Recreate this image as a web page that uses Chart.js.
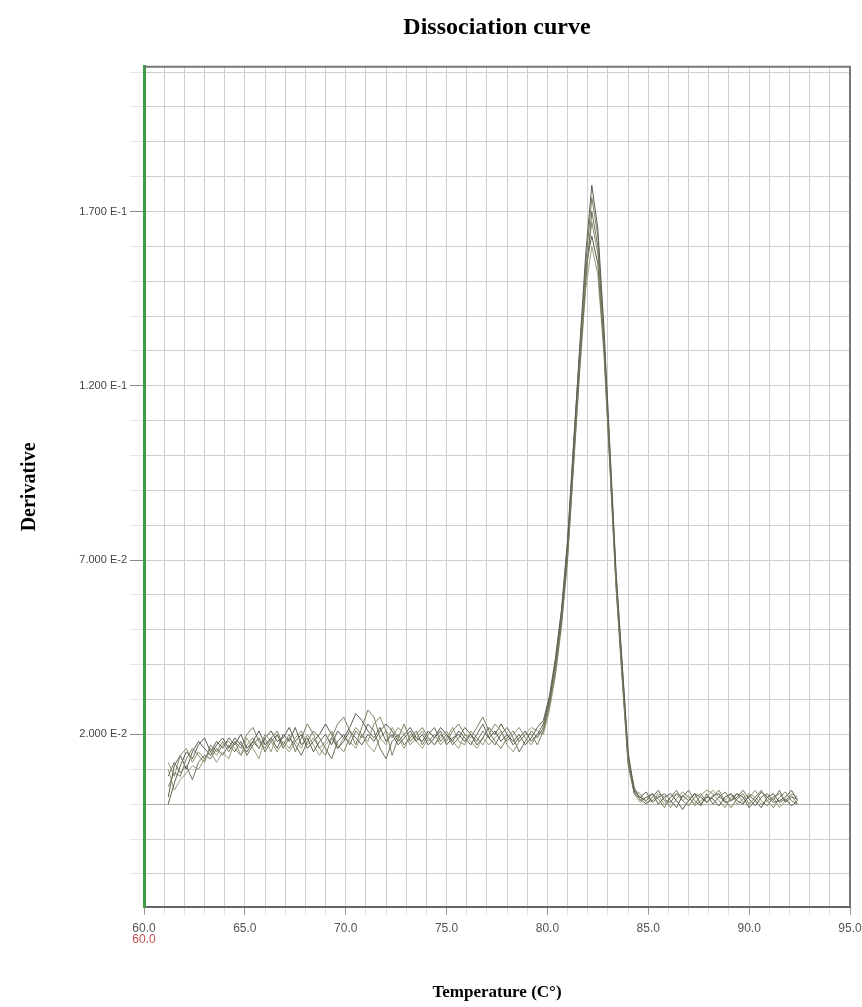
<!DOCTYPE html>
<html>
<head>
<meta charset="utf-8">
<script src="https://cdn.jsdelivr.net/npm/chart.js@4/dist/chart.umd.min.js"></script>
<style>
  body { margin: 0; background: #fff; }
  #wrap { width: 862px; height: 1007px; }
</style>
</head>
<body>
<div id="wrap"><canvas id="meltChart"></canvas></div>
<script>
// temperature steps (°C)
const temps = [
  61.2, 61.5, 61.8, 62.1, 62.4, 62.7, 63.0, 63.3, 63.6, 63.9,
  64.2, 64.5, 64.8, 65.1, 65.4, 65.7, 66.0, 66.3, 66.6, 66.9,
  67.2, 67.5, 67.8, 68.1, 68.4, 68.7, 69.0, 69.3, 69.6, 69.9,
  70.2, 70.5, 70.8, 71.1, 71.4, 71.7, 72.0, 72.3, 72.6, 72.9,
  73.2, 73.5, 73.8, 74.1, 74.4, 74.7, 75.0, 75.3, 75.6, 75.9,
  76.2, 76.5, 76.8, 77.1, 77.4, 77.7, 78.0, 78.3, 78.6, 78.9,
  79.2, 79.5, 79.8, 80.1, 80.4, 80.7, 81.0, 81.3, 81.6, 81.9,
  82.2, 82.5, 82.8, 83.1, 83.4, 83.7, 84.0, 84.3, 84.6, 84.9,
  85.2, 85.5, 85.8, 86.1, 86.4, 86.7, 87.0, 87.3, 87.6, 87.9,
  88.2, 88.5, 88.8, 89.1, 89.4, 89.7, 90.0, 90.3, 90.6, 90.9,
  91.2, 91.5, 91.8, 92.1, 92.4
];

// derivative values per well, in units of 1e-3
const well1 = [
  0, 6, 11, 15, 13, 17, 19, 15, 18, 16,
  19, 17, 20, 16, 18, 21, 17, 19, 16, 20,
  18, 22, 17, 19, 15, 18, 20, 17, 21, 19,
  22, 26, 24, 21, 19, 22, 18, 20, 17, 19,
  21, 18, 20, 17, 19, 22, 20, 18, 21, 19,
  17, 20, 23, 19, 21, 18, 20, 17, 19, 21,
  18, 20, 23, 30, 41, 55, 75, 103, 131, 158,
  177.5, 165, 137, 102, 67, 41, 15, 4, 2, 3.5,
  0.5, 2, 3, 1, -1, 2.5, 1, 3, 0, 2,
  1.5, -0.5, 2, 3, 1, 0, 2.5, 1, -1, 2,
  3, 0.5, 1.5, -0.5, 1
];
const well2 = [
  5, 9, 8, 13, 16, 14, 12, 17, 15, 18,
  15, 18, 16, 20, 22, 18, 16, 19, 21, 17,
  20, 15, 19, 23, 20, 16, 14, 19, 23, 25,
  21, 17, 22, 27, 25, 19, 21, 14, 19, 23,
  18, 20, 22, 19, 17, 20, 18, 21, 23, 20,
  19, 22, 25, 21, 18, 16, 19, 21, 18, 20,
  20, 17, 21, 28, 39, 54, 73, 101, 129, 155,
  174, 163, 135, 101, 65, 39, 13, 5, 1, 2,
  3, 1.5, -1, 2, 4, 1, -0.5, 2, 3, 0.5,
  2, 4, 1, -1, 1.5, 3, 0, 2, 4, 1,
  -1, 2, 3.5, 1, 0
];
const well3 = [
  8, 12, 9, 11, 7, 12, 14, 13, 16, 14,
  17, 15, 18, 14, 17, 19, 15, 18, 20, 16,
  19, 17, 14, 18, 21, 19, 16, 13, 18, 20,
  17, 21, 19, 23, 21, 16, 13, 18, 20, 17,
  19, 21, 17, 20, 22, 18, 20, 17, 19, 22,
  20, 18, 21, 19, 17, 20, 22, 19, 15, 18,
  21, 19, 22, 29, 38, 52, 71, 98, 125, 150,
  170, 160, 133, 99, 66, 40, 14, 3, 1.5, 0,
  2, 4, 1, 0.5, 3, 2, 4, 1, -0.5, 3,
  0, 2, 3.5, 1, 2, 4, 1.5, -0.5, 2, 3,
  1, 4, 0.5, 2, 1.5
];
const well4 = [
  12, 8, 14, 16, 12, 15, 13, 16, 14, 17,
  18, 16, 14, 17, 19, 16, 20, 18, 15, 18,
  16, 19, 21, 17, 19, 16, 18, 21, 17, 15,
  19, 22, 20, 18, 23, 25, 21, 19, 22, 20,
  17, 19, 21, 18, 20, 17, 19, 22, 18, 17,
  21, 19, 17, 20, 23, 21, 18, 20, 22, 19,
  17, 20, 21, 30, 40, 53, 72, 99, 127, 152,
  167, 158, 132, 98, 64, 38, 13, 4, 3, 0.5,
  1, 3, 2, -1, 1.5, 3.5, 2, 0, 2.5, 4,
  3, 1, -1, 2, 3, 0.5, 2, 4, 1, -0.5,
  2, 3, 1, 2.5, 0
];
const well5 = [
  2, 11, 14, 10, 15, 18, 16, 14, 17, 19,
  16, 19, 17, 15, 18, 16, 19, 21, 18, 19,
  22, 18, 20, 16, 18, 20, 23, 20, 16, 18,
  21, 19, 17, 20, 18, 21, 23, 21, 18, 20,
  22, 19, 18, 21, 19, 21, 17, 19, 20, 18,
  20, 17, 19, 22, 20, 23, 20, 18, 20, 17,
  19, 22, 24, 31, 42, 56, 76, 104, 130, 154,
  163, 155, 131, 97, 63, 37, 12, 3.5, 2, 1,
  3, 0, 2, 3, 1, -1.5, 1, 3, 2, 0.5,
  2.5, 3, 0.5, 1, 3, 2, -1, 1, 3.5, 2,
  0.5, 1, 2, 4, 1
];
const well6 = [
  10, 4, 7, 9, 11, 10, 13, 15, 12, 15,
  13, 18, 14, 19, 16, 13, 19, 15, 20, 17,
  15, 18, 16, 20, 17, 14, 17, 19, 16, 19,
  18, 16, 20, 17, 15, 19, 17, 22, 19, 16,
  20, 18, 16, 19, 17, 19, 21, 18, 16, 20,
  18, 16, 19, 17, 19, 21, 17, 15, 18, 20,
  22, 21, 20, 27, 37, 51, 70, 97, 124, 148,
  160, 152, 129, 96, 62, 36, 11, 3, 0.5, 2,
  1, 2.5, 0, 2, 3, 1, 2.5, -0.5, 1, 2,
  4, 2, 1, 3, 0, 1.5, 3, 2, 0, 1,
  2, -1, 1, 3, 2
];

const wells = [well1, well2, well3, well4, well5, well6];
const wellColors = ['#5e5e52', '#7b7f62', '#6a705a', '#8c9070', '#585c4c', '#9a9c7c'];

// tick labels
const xTickValues = [60, 65, 70, 75, 80, 85, 90, 95];
const xTickLabels = ['60.0', '65.0', '70.0', '75.0', '80.0', '85.0', '90.0', '95.0'];
const yTickValues = [20, 70, 120, 170];
const yTickLabels = ['2.000 E-2', '7.000 E-2', '1.200 E-1', '1.700 E-1'];
const startTempLabel = '60.0';

const frame = {
  id: 'frame',
  afterDraw(chart) {
    const { ctx, chartArea: a, scales } = chart;
    ctx.save();
    ctx.strokeStyle = '#777';
    ctx.lineWidth = 2;
    ctx.beginPath();
    ctx.moveTo(a.left, a.top);
    ctx.lineTo(a.right, a.top);
    ctx.lineTo(a.right, a.bottom);
    ctx.stroke();
    // red start-temperature label under the first tick
    ctx.fillStyle = '#c0504d';
    ctx.font = '12px "Liberation Sans"';
    ctx.textAlign = 'center';
    ctx.textBaseline = 'middle';
    ctx.fillText(startTempLabel, scales.x.getPixelForValue(60), 940);
    ctx.restore();
  }
};

new Chart(document.getElementById('meltChart'), {
  type: 'line',
  data: {
    datasets: wells.map((w, i) => ({
      label: 'Well ' + (i + 1),
      data: temps.map((t, j) => ({ x: t, y: w[j] })),
      borderColor: wellColors[i],
      borderWidth: 1,
      pointRadius: 0,
      tension: 0,
      fill: false
    }))
  },
  options: {
    responsive: true,
    maintainAspectRatio: false,
    animation: false,
    layout: { padding: { right: 12 } },
    plugins: {
      legend: { display: false },
      tooltip: { enabled: false },
      title: {
        display: true,
        fullSize: false,
        text: 'Dissociation curve',
        color: '#000',
        font: { family: 'Liberation Serif', size: 24, weight: 'bold', lineHeight: 1.2 },
        padding: { top: 13, bottom: 25 }
      }
    },
    scales: {
      x: {
        type: 'linear',
        min: 60,
        max: 95,
        afterFit(scale) {
          scale.height = 100;
          scale.paddingLeft = 0;
          scale.paddingRight = 0;
        },
        afterBuildTicks(scale) {
          const t = [];
          for (let v = 60; v <= 95; v++) t.push({ value: v });
          scale.ticks = t;
        },
        ticks: {
          autoSkip: false,
          maxRotation: 0,
          padding: 6,
          color: '#555',
          font: { family: 'Liberation Sans', size: 12 },
          callback(v) {
            const k = xTickValues.indexOf(v);
            return k >= 0 ? xTickLabels[k] : '';
          }
        },
        grid: {
          color: '#cfcfcf',
          lineWidth: 1,
          tickLength: 8,
          tickColor: c => (xTickValues.includes(c.tick.value) ? '#999' : '#e2e2e2')
        },
        border: { color: '#666', width: 2 },
        title: {
          display: true,
          text: 'Temperature (C°)',
          color: '#000',
          font: { family: 'Liberation Serif', size: 17, weight: 'bold', lineHeight: 1.2 },
          padding: { top: 0, bottom: 4 }
        }
      },
      y: {
        min: -29.5,
        max: 211.5,
        afterFit(scale) { scale.width = 144; },
        afterBuildTicks(scale) {
          const t = [];
          for (let v = -20; v <= 210; v += 10) t.push({ value: v });
          scale.ticks = t;
        },
        ticks: {
          autoSkip: false,
          padding: 3,
          color: '#444',
          font: { family: 'Liberation Sans', size: 11 },
          callback(v) {
            const k = yTickValues.indexOf(v);
            return k >= 0 ? yTickLabels[k] : '';
          }
        },
        grid: {
          color: c => (c.tick && c.tick.value === 0 ? '#a9b0a0' : '#cfcfcf'),
          lineWidth: 1,
          tickLength: 14,
          tickColor: c => (yTickValues.includes(c.tick.value) ? '#888' : '#e6e6e6')
        },
        border: { color: '#3d9a46', width: 3 },
        title: {
          display: true,
          text: 'Derivative',
          color: '#000',
          font: { family: 'Liberation Serif', size: 20, weight: 'bold', lineHeight: 1.2 },
          padding: { top: 18, bottom: 0 }
        }
      }
    }
  },
  plugins: [frame]
});
</script>
</body>
</html>
